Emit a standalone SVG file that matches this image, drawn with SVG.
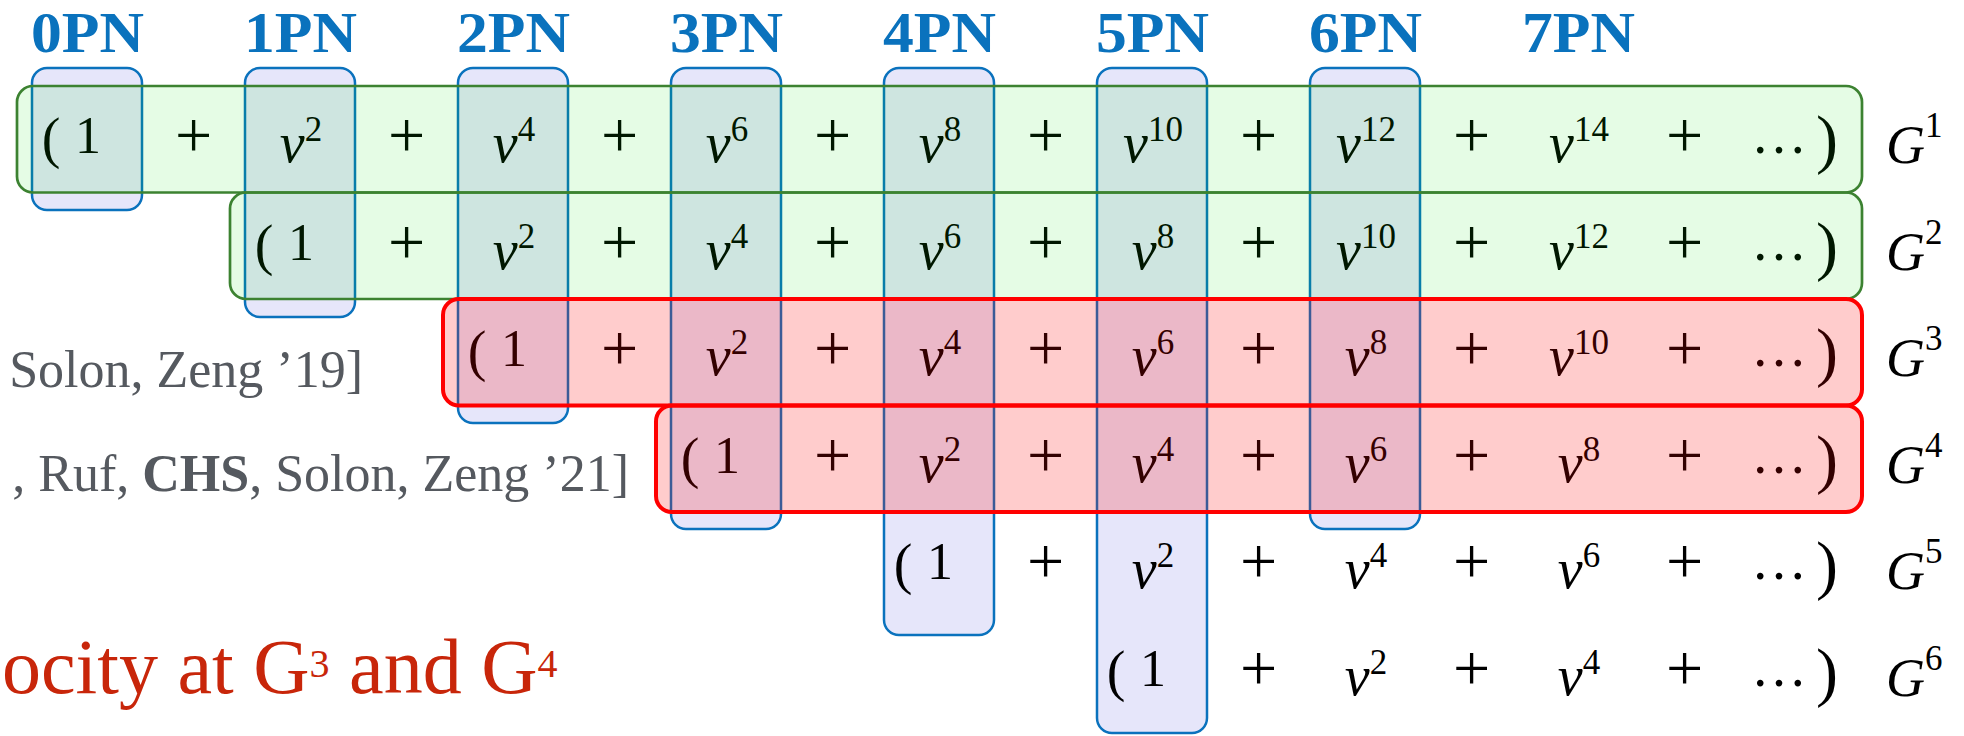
<svg xmlns="http://www.w3.org/2000/svg" width="1964" height="736" viewBox="0 0 1964 736">
<style>
.m{font-family:"Liberation Serif","Times New Roman",serif;fill:#000}
.v{font-style:italic;font-size:56px}
.sup{font-style:normal;font-size:35px}
.one{font-size:52px}
.par{font-size:56px}
.rpar{font-size:66px}
.dots{font-size:56px}
.plus{font-size:66px;text-anchor:middle}
.gl{font-style:italic;font-size:54px}
.pn{font-family:"Liberation Serif","Times New Roman",serif;font-weight:bold;font-size:58px;fill:#0a72bd}
.col{fill:#e6e6fa;stroke:#0a72bd;stroke-width:2.5}
.grn{fill:rgb(0,225,0);fill-opacity:0.1;stroke:#3c8231;stroke-width:2.7}
.red{fill:#ff0000;fill-opacity:0.2;stroke:#ff0000;stroke-width:4}
.cite{font-family:"Liberation Serif","Times New Roman",serif;font-size:52px;fill:#55595f;text-anchor:end}
.note{font-family:"Liberation Serif","Times New Roman",serif;font-size:78px;fill:#c8260a}
</style>
<rect width="1964" height="736" fill="#ffffff"/>

<g id="pn-labels">
<g id="label-0PN"><text class="pn" x="31" y="52" textLength="113" lengthAdjust="spacingAndGlyphs">0PN</text></g>
<g id="label-1PN"><text class="pn" x="244" y="52" textLength="113" lengthAdjust="spacingAndGlyphs">1PN</text></g>
<g id="label-2PN"><text class="pn" x="457" y="52" textLength="113" lengthAdjust="spacingAndGlyphs">2PN</text></g>
<g id="label-3PN"><text class="pn" x="670" y="52" textLength="113" lengthAdjust="spacingAndGlyphs">3PN</text></g>
<g id="label-4PN"><text class="pn" x="883" y="52" textLength="113" lengthAdjust="spacingAndGlyphs">4PN</text></g>
<g id="label-5PN"><text class="pn" x="1096" y="52" textLength="113" lengthAdjust="spacingAndGlyphs">5PN</text></g>
<g id="label-6PN"><text class="pn" x="1309" y="52" textLength="113" lengthAdjust="spacingAndGlyphs">6PN</text></g>
<g id="label-7PN"><text class="pn" x="1522" y="52" textLength="113" lengthAdjust="spacingAndGlyphs">7PN</text></g>
</g>

<g id="columns">
<g id="col-0PN"><rect class="col" x="32" y="68" width="110" height="142" rx="15"/></g>
<g id="col-1PN"><rect class="col" x="245" y="68" width="110" height="249" rx="15"/></g>
<g id="col-2PN"><rect class="col" x="458" y="68" width="110" height="355" rx="15"/></g>
<g id="col-3PN"><rect class="col" x="671" y="68" width="110" height="461" rx="15"/></g>
<g id="col-4PN"><rect class="col" x="884" y="68" width="110" height="567" rx="15"/></g>
<g id="col-5PN"><rect class="col" x="1097" y="68" width="110" height="665" rx="15"/></g>
<g id="col-6PN"><rect class="col" x="1310" y="68" width="110" height="461" rx="15"/></g>
</g>

<g id="connectors"></g>

<g id="row-G1">
<text class="m" text-anchor="middle"><tspan class="par" x="51" y="157">(</tspan><tspan class="one" x="88" y="153">1</tspan></text>
<text class="m v" text-anchor="middle" x="301" y="162">v<tspan class="sup" dy="-21">2</tspan></text>
<text class="m v" text-anchor="middle" x="514" y="162">v<tspan class="sup" dy="-21">4</tspan></text>
<text class="m v" text-anchor="middle" x="727" y="162">v<tspan class="sup" dy="-21">6</tspan></text>
<text class="m v" text-anchor="middle" x="940" y="162">v<tspan class="sup" dy="-21">8</tspan></text>
<text class="m v" text-anchor="middle" x="1153" y="162">v<tspan class="sup" dy="-21">10</tspan></text>
<text class="m v" text-anchor="middle" x="1366" y="162">v<tspan class="sup" dy="-21">12</tspan></text>
<text class="m v" text-anchor="middle" x="1579" y="162">v<tspan class="sup" dy="-21">14</tspan></text>
<text class="m"><tspan class="dots" x="1751" y="153">…</tspan><tspan class="rpar" x="1816" y="161">)</tspan></text>
<text class="m plus" y="157"><tspan x="193.5">+</tspan><tspan x="406.5">+</tspan><tspan x="619.5">+</tspan><tspan x="832.5">+</tspan><tspan x="1045.5">+</tspan><tspan x="1258.5">+</tspan><tspan x="1471.5">+</tspan><tspan x="1684.5">+</tspan></text>
<rect class="grn" x="17" y="86" width="1845" height="106.5" rx="16"/>
</g>

<g id="row-G2">
<text class="m" text-anchor="middle"><tspan class="par" x="264" y="263.5">(</tspan><tspan class="one" x="301" y="259.5">1</tspan></text>
<text class="m v" text-anchor="middle" x="514" y="268.5">v<tspan class="sup" dy="-21">2</tspan></text>
<text class="m v" text-anchor="middle" x="727" y="268.5">v<tspan class="sup" dy="-21">4</tspan></text>
<text class="m v" text-anchor="middle" x="940" y="268.5">v<tspan class="sup" dy="-21">6</tspan></text>
<text class="m v" text-anchor="middle" x="1153" y="268.5">v<tspan class="sup" dy="-21">8</tspan></text>
<text class="m v" text-anchor="middle" x="1366" y="268.5">v<tspan class="sup" dy="-21">10</tspan></text>
<text class="m v" text-anchor="middle" x="1579" y="268.5">v<tspan class="sup" dy="-21">12</tspan></text>
<text class="m"><tspan class="dots" x="1751" y="259.5">…</tspan><tspan class="rpar" x="1816" y="267.5">)</tspan></text>
<text class="m plus" y="263.5"><tspan x="406.5">+</tspan><tspan x="619.5">+</tspan><tspan x="832.5">+</tspan><tspan x="1045.5">+</tspan><tspan x="1258.5">+</tspan><tspan x="1471.5">+</tspan><tspan x="1684.5">+</tspan></text>
<rect class="grn" x="230" y="192.5" width="1632" height="106.5" rx="16"/>
</g>

<g id="row-G3">
<text class="m" text-anchor="middle"><tspan class="par" x="477" y="370">(</tspan><tspan class="one" x="514" y="366">1</tspan></text>
<text class="m v" text-anchor="middle" x="727" y="375">v<tspan class="sup" dy="-21">2</tspan></text>
<text class="m v" text-anchor="middle" x="940" y="375">v<tspan class="sup" dy="-21">4</tspan></text>
<text class="m v" text-anchor="middle" x="1153" y="375">v<tspan class="sup" dy="-21">6</tspan></text>
<text class="m v" text-anchor="middle" x="1366" y="375">v<tspan class="sup" dy="-21">8</tspan></text>
<text class="m v" text-anchor="middle" x="1579" y="375">v<tspan class="sup" dy="-21">10</tspan></text>
<text class="m"><tspan class="dots" x="1751" y="366">…</tspan><tspan class="rpar" x="1816" y="374">)</tspan></text>
<text class="m plus" y="370"><tspan x="619.5">+</tspan><tspan x="832.5">+</tspan><tspan x="1045.5">+</tspan><tspan x="1258.5">+</tspan><tspan x="1471.5">+</tspan><tspan x="1684.5">+</tspan></text>
<rect class="red" x="443" y="299" width="1419" height="106.5" rx="16"/>
</g>

<g id="row-G4">
<text class="m" text-anchor="middle"><tspan class="par" x="690" y="476.5">(</tspan><tspan class="one" x="727" y="472.5">1</tspan></text>
<text class="m v" text-anchor="middle" x="940" y="481.5">v<tspan class="sup" dy="-21">2</tspan></text>
<text class="m v" text-anchor="middle" x="1153" y="481.5">v<tspan class="sup" dy="-21">4</tspan></text>
<text class="m v" text-anchor="middle" x="1366" y="481.5">v<tspan class="sup" dy="-21">6</tspan></text>
<text class="m v" text-anchor="middle" x="1579" y="481.5">v<tspan class="sup" dy="-21">8</tspan></text>
<text class="m"><tspan class="dots" x="1751" y="472.5">…</tspan><tspan class="rpar" x="1816" y="480.5">)</tspan></text>
<text class="m plus" y="476.5"><tspan x="832.5">+</tspan><tspan x="1045.5">+</tspan><tspan x="1258.5">+</tspan><tspan x="1471.5">+</tspan><tspan x="1684.5">+</tspan></text>
<rect class="red" x="656" y="405.5" width="1206" height="106.5" rx="16"/>
</g>

<g id="row-G5">
<text class="m" text-anchor="middle"><tspan class="par" x="903" y="583">(</tspan><tspan class="one" x="940" y="579">1</tspan></text>
<text class="m v" text-anchor="middle" x="1153" y="588">v<tspan class="sup" dy="-21">2</tspan></text>
<text class="m v" text-anchor="middle" x="1366" y="588">v<tspan class="sup" dy="-21">4</tspan></text>
<text class="m v" text-anchor="middle" x="1579" y="588">v<tspan class="sup" dy="-21">6</tspan></text>
<text class="m"><tspan class="dots" x="1751" y="579">…</tspan><tspan class="rpar" x="1816" y="587">)</tspan></text>
<text class="m plus" y="583"><tspan x="1045.5">+</tspan><tspan x="1258.5">+</tspan><tspan x="1471.5">+</tspan><tspan x="1684.5">+</tspan></text>
</g>

<g id="row-G6">
<text class="m" text-anchor="middle"><tspan class="par" x="1116" y="689.5">(</tspan><tspan class="one" x="1153" y="685.5">1</tspan></text>
<text class="m v" text-anchor="middle" x="1366" y="694.5">v<tspan class="sup" dy="-21">2</tspan></text>
<text class="m v" text-anchor="middle" x="1579" y="694.5">v<tspan class="sup" dy="-21">4</tspan></text>
<text class="m"><tspan class="dots" x="1751" y="685.5">…</tspan><tspan class="rpar" x="1816" y="693.5">)</tspan></text>
<text class="m plus" y="689.5"><tspan x="1258.5">+</tspan><tspan x="1471.5">+</tspan><tspan x="1684.5">+</tspan></text>
</g>

<g id="g-labels">
<g id="label-G1"><text class="m gl" x="1886" y="163">G<tspan class="sup" dy="-26">1</tspan></text></g>
<g id="label-G2"><text class="m gl" x="1886" y="269.5">G<tspan class="sup" dy="-26">2</tspan></text></g>
<g id="label-G3"><text class="m gl" x="1886" y="376">G<tspan class="sup" dy="-26">3</tspan></text></g>
<g id="label-G4"><text class="m gl" x="1886" y="482.5">G<tspan class="sup" dy="-26">4</tspan></text></g>
<g id="label-G5"><text class="m gl" x="1886" y="589">G<tspan class="sup" dy="-26">5</tspan></text></g>
<g id="label-G6"><text class="m gl" x="1886" y="695.5">G<tspan class="sup" dy="-26">6</tspan></text></g>
</g>

<g id="citations">
<g id="cite-19"><text class="cite" x="363" y="387">Solon, Zeng ’19]</text></g>
<g id="cite-21"><text class="cite" x="629" y="491">, Ruf, <tspan font-weight="bold">CHS</tspan>, Solon, Zeng ’21]</text></g>
</g>

<g id="note">
<text class="note" x="2" y="693">ocity at G<tspan font-size="40" dy="-16">3</tspan><tspan dy="16"> and G</tspan><tspan font-size="40" dy="-16">4</tspan></text>
</g>
</svg>
